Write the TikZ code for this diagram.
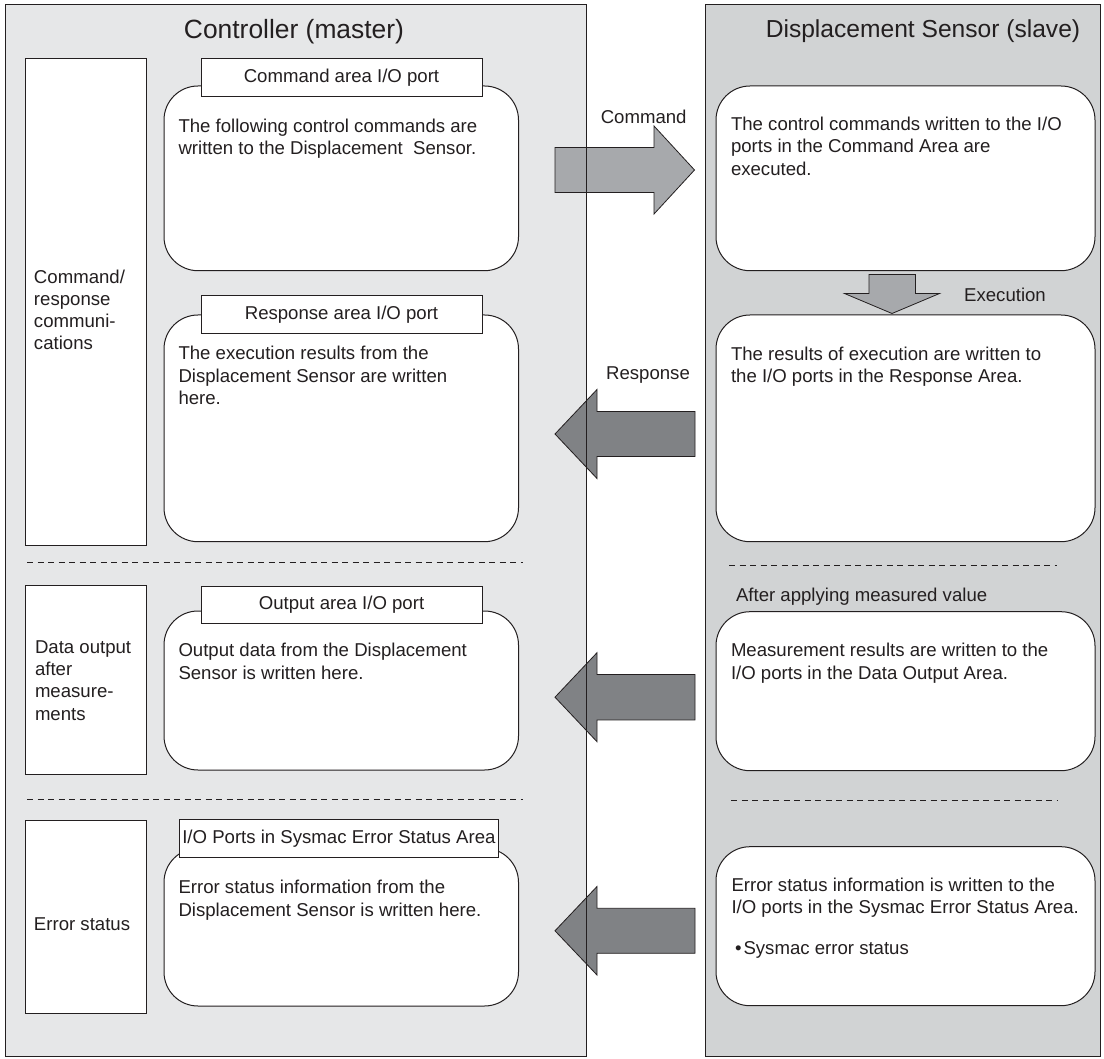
\documentclass[tikz,border=0pt]{standalone}
\usepackage{fontspec}
\setmainfont{Liberation Sans}
\definecolor{ink}{HTML}{231F20}
\definecolor{lpanelc}{HTML}{E6E7E8}
\definecolor{rpanelc}{HTML}{D1D3D4}
\definecolor{arrowlight}{HTML}{A7A9AC}
\definecolor{arrowdark}{HTML}{808285}
\begin{document}
\begin{tikzpicture}[x=1pt,y=-1pt,
  panelfill/.style={fill=#1, draw=none, inner sep=0pt, outer sep=0pt},
  colbox/.style={draw=ink, fill=white, line width=1pt, inner sep=0pt, outer sep=0pt},
  roundbox/.style={draw=ink, fill=white, line width=1pt, rounded corners=34pt, inner sep=0pt, outer sep=0pt},
  labelbox/.style={draw=ink, fill=white, line width=1pt, inner sep=0pt, outer sep=0pt, text=ink, font=\fontsize{18.6}{22.3}\selectfont},
  txt/.style={anchor=base west, inner sep=0pt, outer sep=0pt, text=ink, font=\fontsize{18.6}{22.3}\selectfont},
  ctxt/.style={anchor=base, inner sep=0pt, outer sep=0pt, text=ink, font=\fontsize{18.6}{22.3}\selectfont},
  sepline/.style={draw=ink, line width=0.9pt, dash pattern=on 6pt off 4.5pt},
  blockarrow/.style={draw=ink, line width=0.8pt, line join=miter, fill=#1},
  panelborder/.style={draw=ink, line width=1pt}
]
\useasboundingbox (0,0) rectangle (1104,1059);

% panels (fills)
\node[panelfill=lpanelc, minimum width=581pt, minimum height=1051.5pt] (lp) at (295.5,530.75) {};
\node[panelfill=rpanelc, minimum width=395pt, minimum height=1051.5pt] (rp) at (902.5,530.75) {};

% left column boxes
\node[colbox, minimum width=121.5pt, minimum height=486.7pt] (col1) at (85.75,301.65) {};
\node[colbox, minimum width=121.5pt, minimum height=189pt] (col2) at (85.75,679.5) {};
\node[colbox, minimum width=121.5pt, minimum height=193.3pt] (col3) at (85.75,916.65) {};

% left rounded boxes
\node[roundbox, minimum width=354.5pt, minimum height=184.7pt] (lb1) at (341.25,178.35) {};
\node[roundbox, minimum width=354.5pt, minimum height=226.7pt] (lb2) at (341.25,428.35) {};
\node[roundbox, minimum width=354.5pt, minimum height=159pt] (lb3) at (341.25,690.5) {};
\node[roundbox, minimum width=354.5pt, minimum height=157.7pt] (lb4) at (341.25,927.15) {};

% label boxes
\node[labelbox, minimum width=281pt, minimum height=37.3pt] (lab1) at (341.5,77.65) {Command area I/O port};
\node[labelbox, minimum width=281pt, minimum height=37.6pt] (lab2) at (341.5,314.5) {Response area I/O port};
\node[labelbox, minimum width=281pt, minimum height=36.6pt] (lab3) at (341.5,605) {Output area I/O port};
\node[labelbox, minimum width=318.6pt, minimum height=38pt] (lab4) at (338.9,838.3) {I/O Ports in Sysmac Error Status Area};

% right rounded boxes
\node[roundbox, minimum width=379pt, minimum height=184.7pt] (rb1) at (905.5,178.35) {};
\node[roundbox, minimum width=379pt, minimum height=226.7pt] (rb2) at (905.5,428.35) {};
\node[roundbox, minimum width=379pt, minimum height=159pt] (rb3) at (905.5,691.2) {};
\node[roundbox, minimum width=379pt, minimum height=159pt] (rb4) at (905.5,926.2) {};

% dashed separators
\coordinate (dl1a) at (27,562.7);  \coordinate (dl1b) at (523,562.7);
\coordinate (dl2a) at (27,799.5);  \coordinate (dl2b) at (523,799.5);
\coordinate (dr1a) at (729,565);   \coordinate (dr1b) at (1057,565);
\coordinate (dr2a) at (731,800.7); \coordinate (dr2b) at (1057,800.7);
\draw[sepline] (dl1a) -- (dl1b);
\draw[sepline] (dl2a) -- (dl2b);
\draw[sepline] (dr1a) -- (dr1b);
\draw[sepline] (dr2a) -- (dr2b);

% block arrows
\draw[blockarrow=arrowlight] (555,147.5) -- (654,147.5) -- (654,126) -- (694.5,170) -- (654,214) -- (654,192.5) -- (555,192.5) -- cycle;
\draw[blockarrow=arrowdark] (695,411.5) -- (597,411.5) -- (597,389.5) -- (555,434) -- (597,478.5) -- (597,456.5) -- (695,456.5) -- cycle;
\draw[blockarrow=arrowdark] (695,674.5) -- (597,674.5) -- (597,652.7) -- (555,697.2) -- (597,741.7) -- (597,719.9) -- (695,719.9) -- cycle;
\draw[blockarrow=arrowdark] (695,908.3) -- (597,908.3) -- (597,886.5) -- (555,930.8) -- (597,975) -- (597,953.3) -- (695,953.3) -- cycle;
\draw[blockarrow=arrowlight] (869,274.5) -- (915.5,274.5) -- (915.5,293.5) -- (939.5,293.5) -- (892,313.5) -- (844.5,293.5) -- (869,293.5) -- cycle;

% panel borders
\draw[panelborder] (lp.north west) rectangle (lp.south east);
\draw[panelborder] (rp.north west) rectangle (rp.south east);

% titles
\node[anchor=base, inner sep=0pt, text=ink, font=\fontsize{26.4}{30}\selectfont] (tleft) at (294,38.5) {Controller (master)};
\node[anchor=base, inner sep=0pt, text=ink, font=\fontsize{24.6}{28}\selectfont] (tright) at (923,37.5) {Displacement Sensor (slave)};

% arrow labels
\node[ctxt] (lcmd) at (643.7,124) {Command};
\node[ctxt] (lresp) at (648,380) {Response};
\node[ctxt] (lexec) at (1005,302) {Execution};
\node[txt] (lafter) at (736,601.5) {After applying measured value};

% left column texts
\node[txt] (c1a) at (34,283.1) {Command/};
\node[txt] (c1b) at (34,305.4) {response};
\node[txt] (c1c) at (34,327.7) {communi-};
\node[txt] (c1d) at (34,350) {cations};
\node[txt] (c2a) at (35,653.5) {Data output};
\node[txt] (c2b) at (35,675.7) {after};
\node[txt] (c2c) at (35,697.9) {measure-};
\node[txt] (c2d) at (35,720.1) {ments};
\node[txt] (c3a) at (34,930.5) {Error status};

% left box texts
\node[txt] (t1a) at (178.5,132.5) {The following control commands are};
\node[txt] (t1b) at (178.5,154.8) {written to the Displacement\ \ Sensor.};
\node[txt] (t2a) at (178.5,360) {The execution results from the};
\node[txt] (t2b) at (178.5,382.3) {Displacement Sensor are written};
\node[txt] (t2c) at (178.5,404.6) {here.};
\node[txt] (t3a) at (178.5,656.7) {Output data from the Displacement};
\node[txt] (t3b) at (178.5,679) {Sensor is written here.};
\node[txt] (t4a) at (178.5,893.8) {Error status information from the};
\node[txt] (t4b) at (178.5,916.1) {Displacement Sensor is written here.};

% right box texts
\node[txt] (r1a) at (731,130.5) {The control commands written to the I/O};
\node[txt] (r1b) at (731,152.8) {ports in the Command Area are};
\node[txt] (r1c) at (731,175.1) {executed.};
\node[txt] (r2a) at (731,360.5) {The results of execution are written to};
\node[txt] (r2b) at (731,382.8) {the I/O ports in the Response Area.};
\node[txt] (r3a) at (731,656.7) {Measurement results are written to the};
\node[txt] (r3b) at (731,679) {I/O ports in the Data Output Area.};
\node[txt] (r4a) at (731.5,891) {Error status information is written to the};
\node[txt] (r4b) at (731.5,913.3) {I/O ports in the Sysmac Error Status Area.};
\node[txt] (r4c) at (735,954.4) {•\hspace{2pt}Sysmac error status};
\end{tikzpicture}
\end{document}
